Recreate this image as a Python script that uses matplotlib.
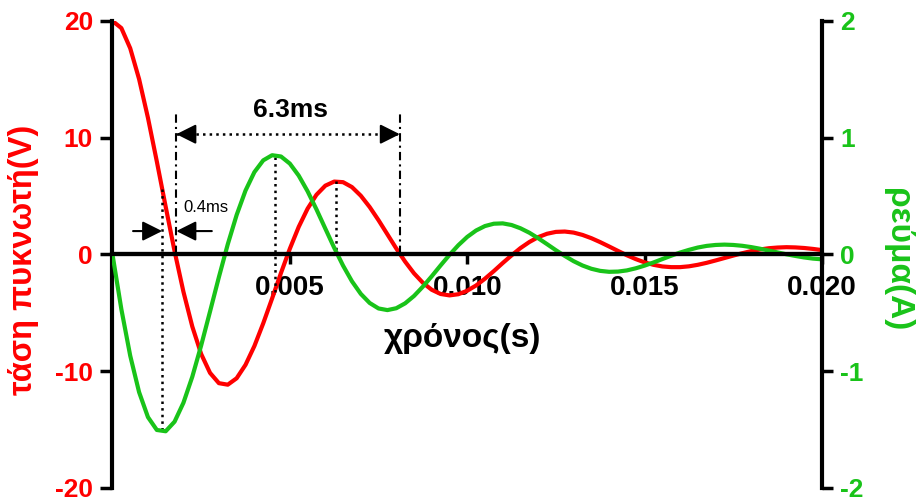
import numpy as np
import matplotlib.pyplot as plt

plt.rcParams['font.family'] = ['Liberation Sans', 'DejaVu Sans']
plt.rcParams['font.weight'] = 'bold'
plt.rcParams['axes.unicode_minus'] = False

RED = '#ff0000'
GREEN = '#19c319'

# samples every 0.25 ms
time_s = np.linspace(0, 0.02, 81)
voltage = [20.00, 19.39, 17.66, 15.02, 11.70, 7.96, 4.08, 0.28, -3.20, -6.18,
           -8.53, -10.15, -11.03, -11.16, -10.61, -9.46, -7.85, -5.90, -3.77, -1.59,
           0.49, 2.36, 3.92, 5.11, 5.89, 6.24, 6.19, 5.77, 5.03, 4.06,
           2.93, 1.72, 0.51, -0.62, -1.62, -2.43, -3.03, -3.39, -3.51, -3.41,
           -3.11, -2.66, -2.08, -1.43, -0.74, -0.08, 0.54, 1.06, 1.48, 1.77,
           1.93, 1.96, 1.87, 1.67, 1.39, 1.05, 0.68, 0.30, -0.07, -0.40,
           -0.68, -0.89, -1.03, -1.09, -1.09, -1.02, -0.89, -0.72, -0.52, -0.31,
           -0.10, 0.10, 0.28, 0.42, 0.53, 0.59, 0.62, 0.60, 0.55, 0.47, 0.37]
current = [0.000, -0.469, -0.868, -1.180, -1.394, -1.504, -1.515, -1.433, -1.271, -1.048,
           -0.780, -0.489, -0.194, 0.087, 0.338, 0.547, 0.705, 0.806, 0.850, 0.839,
           0.778, 0.675, 0.541, 0.386, 0.221, 0.057, -0.096, -0.230, -0.338, -0.416,
           -0.463, -0.477, -0.461, -0.419, -0.356, -0.276, -0.187, -0.094, -0.004, 0.079,
           0.150, 0.205, 0.243, 0.263, 0.266, 0.252, 0.224, 0.186, 0.139, 0.088,
           0.036, -0.013, -0.058, -0.095, -0.123, -0.141, -0.149, -0.147, -0.137, -0.119,
           -0.096, -0.069, -0.040, -0.011, 0.016, 0.039, 0.059, 0.073, 0.081, 0.084,
           0.081, 0.074, 0.063, 0.049, 0.033, 0.017, 0.001, -0.013, -0.026, -0.036, -0.042]

xticks = [0.005, 0.010, 0.015, 0.020]
xtick_labels = ['0.005', '0.010', '0.015', '0.020']
vticks = [-20, -10, 0, 10, 20]
iticks = [-2, -1, 0, 1, 2]

# annotation readings
link_t = [0.0014, 0.00457, 0.0063]      # vertical dotted links between curves
link_v = [5.6, -3.2, 6.25]
link_i = [-1.515, 0.853, 0.0]
gap_t = [0.0014, 0.0018]                # 0.4 ms
period_t = [0.0018, 0.0081]             # 6.3 ms
period_y = 10.3
marker_top = 12.2

fig = plt.figure(figsize=(9.19, 5.04), dpi=100)
ax = fig.add_axes([0.1224, 0.032, 0.772, 0.9264])
ax2 = ax.twinx()

ax.plot(time_s, voltage, color=RED, lw=3, solid_joinstyle='round')
ax2.plot(time_s, current, color=GREEN, lw=3, solid_joinstyle='round')
ax2.axhline(0, color='k', lw=3, zorder=5)

ax.set_xlim(0, 0.02)
ax.set_ylim(-20, 20)
ax2.set_ylim(-2, 2)
scale = 20 / 2

ax.spines['top'].set_visible(False)
ax.spines['right'].set_visible(False)
ax.spines['bottom'].set_position(('data', 0))
ax.spines['left'].set_linewidth(3)
ax.spines['bottom'].set_linewidth(3)
for s in ['top', 'left', 'bottom']:
    ax2.spines[s].set_visible(False)
ax2.spines['right'].set_linewidth(3)

ax.set_xticks(xticks)
ax.set_xticklabels(xtick_labels)
ax.tick_params(axis='x', direction='out', length=7, width=2.5, labelsize=20, pad=8)
ax.set_yticks(vticks)
ax.tick_params(axis='y', length=9, width=2.5, labelsize=19, labelcolor=RED, pad=5)
ax2.set_yticks(iticks)
ax2.tick_params(axis='y', length=8, width=2.5, labelsize=19, labelcolor=GREEN, pad=5)

fig.text(24 / 919, 1 - 260 / 504, 'τάση πυκνωτή(V)', rotation=90, color=RED,
         fontsize=23.5, ha='center', va='center')
fig.text(898 / 919, 1 - 260 / 504, 'ρεύμα(A)', rotation=-90, color=GREEN,
         fontsize=24, ha='center', va='center')
ax.text(0.4926, 0.32, 'χρόνος(s)', transform=ax.transAxes, fontsize=24,
        ha='center', va='center')

# dotted links
for t, v, i in zip(link_t, link_v, link_i):
    ax.plot([t, t], [v, i * scale], ':', color='k', lw=1.8)

# dash-dot period markers
for t in period_t:
    ax.plot([t, t], [0, marker_top], color='k', lw=1.5, dashes=[4, 2, 1, 2])

# 6.3 ms arrow
ax.plot(period_t, [period_y, period_y], ':', color='k', lw=1.8)
head = dict(arrowstyle='-|>,head_length=0.6,head_width=0.3', color='k', lw=1.5,
            shrinkA=0, shrinkB=0, mutation_scale=20)
ax.annotate('', xy=(period_t[0], period_y), xytext=(period_t[0] + 0.0005, period_y),
            arrowprops=head)
ax.annotate('', xy=(period_t[1], period_y), xytext=(period_t[1] - 0.0005, period_y),
            arrowprops=head)
ax.text(0.00503, 12.4, '6.3ms', ha='center', va='center', fontsize=19)

# 0.4 ms arrows
ax.annotate('', xy=(gap_t[0], 2.0), xytext=(0.00058, 2.0), arrowprops=head)
ax.annotate('', xy=(gap_t[1], 2.0), xytext=(0.0028, 2.0), arrowprops=head)
ax.text(0.00199, 4.05, '0.4ms', fontsize=12, fontweight='normal', ha='left', va='center')

plt.savefig('out.png', dpi=100)
